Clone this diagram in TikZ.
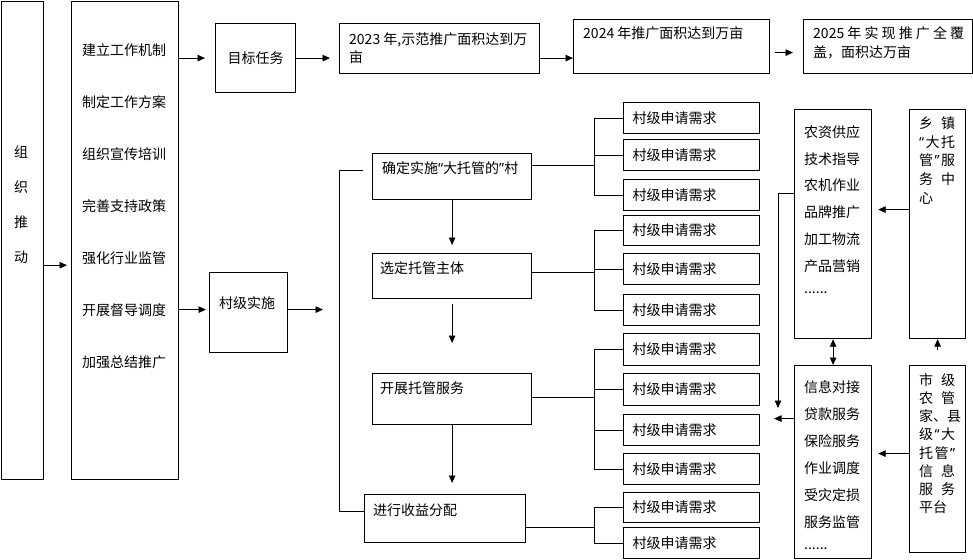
\documentclass[tikz,border=0pt]{standalone}
\usepackage{fontspec}
\setmainfont{Noto Sans CJK SC}
\newfontfamily\myqfont{Noto Sans}
\newcommand\myql{{\myqfont “}}
\newcommand\myqr{{\myqfont ”}}
\newcommand\mydots{......}
\usetikzlibrary{arrows.meta}
\begin{document}
\begin{tikzpicture}[x=1pt,y=-1pt,
  bx/.style={draw=black, line width=1.2pt, inner sep=0pt, anchor=north west},
  txt/.style={font=\fontsize{14pt}{17pt}\selectfont, inner sep=0pt},
  conn/.style={draw=black, line width=0.9pt},
  arr/.style={conn, -{Triangle[length=7.5pt,width=6.5pt]}},
  darr/.style={conn, {Triangle[length=7.5pt,width=6.5pt]}-{Triangle[length=7.5pt,width=6.5pt]}},
  vbox/.style={bx, txt, text width=118pt, inner xsep=9pt, inner ysep=0pt, align=left}]
\useasboundingbox (0,0) rectangle (973,559);

% ---- boxes ----
\node[bx, minimum width=42pt, minimum height=478pt] (zz) at (0.6,0.6) {};
\node[bx, minimum width=107pt, minimum height=478pt] (lst) at (71,1) {};
\node[bx, txt, minimum width=80pt, minimum height=69pt] (tgt) at (215,23) {目标任务};
\node[bx, minimum width=200pt, minimum height=50pt] (b23) at (339,23) {};
\node[bx, minimum width=196pt, minimum height=54pt] (b24) at (573,19) {};
\node[bx, minimum width=169pt, minimum height=54pt] (b25) at (803,19) {};
\node[bx, minimum width=78pt, minimum height=80pt] (vil) at (209,272) {};
\node[bx, minimum width=159pt, minimum height=46pt] (s1) at (372,153) {};
\node[bx, minimum width=159pt, minimum height=45pt] (s2) at (372,253) {};
\node[bx, minimum width=159pt, minimum height=51pt] (s3) at (372,373) {};
\node[bx, minimum width=161pt, minimum height=48pt] (s4) at (364,494) {};
\node[bx, minimum width=77pt, minimum height=229pt] (sv1) at (794,109) {};
\node[bx, minimum width=77pt, minimum height=193pt] (sv2) at (794,365) {};
\node[bx, minimum width=56pt, minimum height=229pt] (xz) at (909,109) {};
\node[bx, minimum width=56pt, minimum height=187pt] (sj) at (909,365) {};

\foreach \i/\t/\h in {1/102/31, 2/139/31, 3/179/31, 4/215/30, 5/253/31, 6/294/31,
                      7/333/32, 8/373/32, 9/414/31, 10/453/31, 11/492/30, 12/527/31}
  \node[vbox, minimum height=\h pt] (v\i) at (623,\t) {村级申请需求};

% ---- texts ----
\node[txt, anchor=west, align=left, font=\fontsize{14pt}{18pt}\selectfont] (t23) at (349,48) {2023 年,示范推广面积达到万\\亩};
\node[txt, anchor=west] (t24) at (583,33) {2024 年推广面积达到万亩};
\node[txt, anchor=west, align=left, font=\fontsize{14pt}{19pt}\selectfont] (t25) at (813,42.5) {2025 年 实 现 推 广 全 覆\\盖，面积达万亩};
\node[txt] (tvil) at (247,303) {村级实施};
\node[txt, anchor=west] (ts1) at (382,168) {确定实施\myql 大托管的\myqr 村};
\node[txt, anchor=west] (ts2) at (380,268) {选定托管主体};
\node[txt, anchor=west] (ts3) at (380,388) {开展托管服务};
\node[txt, anchor=west] (ts4) at (373,510) {进行收益分配};

\foreach \t [count=\i] in {组,织,推,动}
  \node[txt] (zc\i) at (21,{152+(\i-1)*35}) {\t};
\foreach \t [count=\i] in {建立工作机制,制定工作方案,组织宣传培训,完善支持政策,强化行业监管,开展督导调度,加强总结推广}
  \node[txt, anchor=west] (li\i) at (82,{50+(\i-1)*52}) {\t};
\foreach \t [count=\i] in {农资供应,技术指导,农机作业,品牌推广,加工物流,产品营销,\mydots}
  \node[txt, anchor=west] (sa\i) at (804,{132+(\i-1)*26.8}) {\t};
\foreach \t [count=\i] in {信息对接,贷款服务,保险服务,作业调度,受灾定损,服务监管,\mydots}
  \node[txt, anchor=west] (sb\i) at (804,{387+(\i-1)*27}) {\t};
\foreach \t [count=\i] in {乡\hfill 镇,\myql\hfill 大\hfill 托,管\hfill\myqr\hfill 服,务\hfill 中,心}
  \node[txt, anchor=west] (xa\i) at (919,{123+(\i-1)*18.8}) {\makebox[36pt][l]{\t}};
\foreach \t [count=\i] in {市\hfill 级,农\hfill 管,家\hfill 、\hfill 县,级\hfill\myql\hfill 大,托\hfill 管\hfill\myqr,信\hfill 息,服\hfill 务,平台}
  \node[txt, anchor=west] (xb\i) at (919,{380+(\i-1)*18.2}) {\makebox[36pt][l]{\t}};

% ---- helper coordinates ----
\coordinate (zzo) at ([yshift=-25pt]zz.east);
\coordinate (q) at ([yshift=-6pt]b24.east);
\coordinate (vw) at ([yshift=3pt]vil.west);
\coordinate (bkt) at (339,170);
\coordinate (bkb) at (339,511);
\coordinate (s1l) at ([xshift=-9pt]s1.west);
\coordinate (vx) at (594,0);
\coordinate (m1) at ([yshift=11pt]s1.east);
\coordinate (m2) at ([yshift=3.5pt]s2.east);
\coordinate (m3) at ([yshift=1.5pt]s3.east);
\coordinate (m4) at ([yshift=-9pt]s4.east);
\coordinate (xo) at ([yshift=14.5pt]xz.west);
\coordinate (so) at ([yshift=5.5pt]sj.west);
\coordinate (p1) at ([yshift=30.5pt]sv1.west);
\coordinate (p2) at ([yshift=43.5pt]sv2.west);
\coordinate (cv) at (778,408);
\coordinate (lv) at (774,0);

% ---- connectors ----
\draw[arr, shorten >=4pt] (zzo) -- (zzo -| lst.west);
\draw[arr, shorten >=10pt] (lst.east |- tgt.west) -- (tgt.west);
\draw[arr, shorten >=9pt] (tgt.east) -- (tgt.east -| b23.west);
\draw[arr] (tgt.east -| b23.east) -- (tgt.east -| b24.west);
\draw[arr, shorten <=5pt, shorten >=10pt] (q) -- (q -| b25.west);
\draw[arr, shorten >=3pt] (vw -| lst.east) -- (vw);
\draw[arr, shorten >=16pt] (vw -| vil.east) -- (vw -| bkt);
\draw[conn] (s1l |- bkt) -- (bkt) -- (bkb) -- (bkb -| s4.west);

\draw[arr, shorten >=8pt] (s1.south) -- (s1.south |- s2.north);
\draw[arr, shorten <=5pt, shorten >=30pt] (s2.south) -- (s2.south |- s3.north);
\draw[arr, shorten >=11pt] (s3.south) -- (s3.south |- s4.north);

\draw[conn] (m1) -- (m1 -| vx);
\draw[conn] (vx |- v1) -- (vx |- v3);
\foreach \k in {1,2,3} \draw[conn] (vx |- v\k) -- (v\k.west);
\draw[conn] (m2) -- (m2 -| vx);
\draw[conn] (vx |- v4) -- (vx |- v6);
\foreach \k in {4,5,6} \draw[conn] (vx |- v\k) -- (v\k.west);
\draw[conn] (m3) -- (m3 -| vx);
\draw[conn] (vx |- v7) -- (vx |- v10);
\foreach \k in {7,8,9,10} \draw[conn] (vx |- v\k) -- (v\k.west);
\draw[conn] (m4) -- (m4 -| vx);
\draw[conn] (vx |- v11) -- (vx |- v12);
\foreach \k in {11,12} \draw[conn] (vx |- v\k) -- (v\k.west);

\draw[arr, shorten >=6pt] (xo) -- (xo -| sv1.east);
\draw[arr, shorten >=6pt] (so) -- (so -| sv2.east);
\draw[arr, shorten <=15pt] (sj.north) -- (xz.south);
\draw[darr] (sv1.south) -- (sv2.north);
\draw[arr] (p1) -| (cv);
\draw[arr] (p2) -- (p2 -| lv);
\end{tikzpicture}
\end{document}
